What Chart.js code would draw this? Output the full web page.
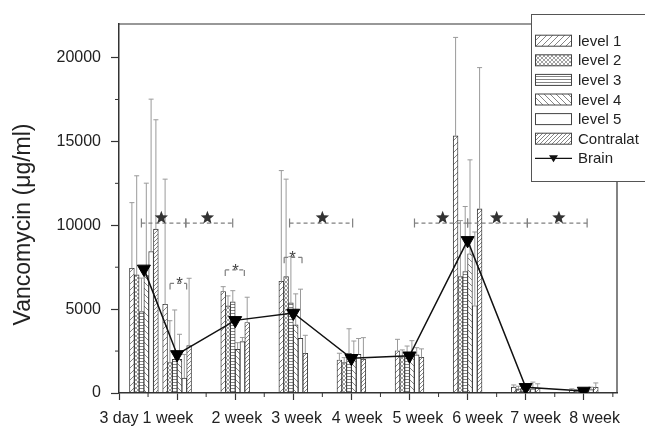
<!DOCTYPE html>
<html>
<head>
<meta charset="utf-8">
<script src="https://cdn.jsdelivr.net/npm/chart.js@4.4.0/dist/chart.umd.min.js"></script>
<style>
  body { margin: 0; background: #fff; }
  canvas { display: block; }
</style>
</head>
<body>
<canvas id="canvas" width="645" height="429"></canvas>
<script>
// sampling days and the x labels
const days = [3, 7, 14, 21, 28, 35, 42, 49, 56];
const xLabels = ['3 day', '1 week', '2 week', '3 week', '4 week', '5 week', '6 week', '7 week', '8 week'];
const labelDays = [0, 5.9, 14.2, 21.4, 28.7, 36, 43.2, 50.2, 57.3];

// means and SD (ug/ml)
const level1 = [7440, 5290, 6050, 6660, 1970, 2520, 15330, 350, 150];
const level1Sd = [3910, 7460, 290, 6600, 400, 680, 5870, 130, 100];
const level2 = [7040, 1810, 5190, 6940, 1810, 2170, 6940, 250, 100];
const level2Sd = [5910, 2500, 600, 5810, 300, 400, 3340, 150, 100];
const level3 = [4850, 2000, 5430, 5370, 2370, 2300, 7240, 300, 150];
const level3Sd = [2000, 2950, 670, 2760, 1460, 500, 3880, 150, 100];
const level4 = [7000, 2000, 2600, 4060, 2200, 2330, 8300, 200, 100];
const level4Sd = [5510, 1500, 400, 1850, 900, 790, 5600, 150, 100];
const level5 = [8430, 890, 3060, 3260, 2300, 2270, 5200, 250, 200];
const level5Sd = [9090, 1410, 250, 2930, 950, 430, 4400, 400, 150];
const contralat = [9770, 2820, 4200, 2370, 2010, 2130, 10980, 300, 340];
const contralatSd = [6520, 4020, 1510, 1070, 1290, 500, 8420, 250, 260];
const brain = [7400, 2300, 4330, 4770, 2070, 2220, 9100, 340, 120];

// significance marks
const bigBrackets = [[2.7, 8.05], [8.05, 13.7], [20.55, 28.15], [35.6, 42], [42, 49.2], [49.2, 56.4]];
const bigStars = [5.1, 10.65, 24.5, 39, 45.5, 53];
const bracketLevel = 10130;
const starLevel = 10450;
const smallBrackets = [[6.15, 8.15, 6530], [12.8, 15.1, 7340], [19.9, 22.05, 8090]];
const smallStars = [7.3, 14.05, 20.9];

const FONT = "'Liberation Sans', Arial, sans-serif";

function hatch(kind) {
  const s = kind === 'horiz' ? 3 : (kind === 'dense' || kind === 'cross') ? 4 : 6;
  const c = document.createElement('canvas');
  c.width = s; c.height = s;
  const g = c.getContext('2d');
  g.fillStyle = '#fff';
  g.fillRect(0, 0, s, s);
  g.strokeStyle = kind === 'cross' ? '#8a8a8a' : '#666';
  g.lineWidth = 0.8;
  g.beginPath();
  if (kind === 'horiz') {
    g.moveTo(0, 1.5); g.lineTo(s, 1.5);
  }
  if (kind === 'fwd' || kind === 'dense' || kind === 'cross') {
    g.moveTo(-1, s + 1); g.lineTo(s + 1, -1);
    g.moveTo(-1, 1); g.lineTo(1, -1);
    g.moveTo(s - 1, s + 1); g.lineTo(s + 1, s - 1);
  }
  if (kind === 'back' || kind === 'cross') {
    g.moveTo(-1, -1); g.lineTo(s + 1, s + 1);
    g.moveTo(s - 1, -1); g.lineTo(s + 1, 1);
    g.moveTo(-1, s - 1); g.lineTo(1, s + 1);
  }
  g.stroke();
  if (kind === 'none') return '#fff';
  return g.createPattern(c, 'repeat');
}

function pts(vals) {
  return days.map((d, i) => ({x: d, y: vals[i]}));
}

function barSet(label, vals, sd, kind) {
  return {
    type: 'bar', label: label, data: pts(vals), sd: sd,
    backgroundColor: hatch(kind), borderColor: '#333', borderWidth: 0.9,
    borderSkipped: false, barThickness: 4.8, order: 2
  };
}

function star(ctx, cx, cy, r) {
  ctx.beginPath();
  for (let k = 0; k < 10; k++) {
    const rr = k % 2 ? r * 0.42 : r;
    const a = -Math.PI / 2 + k * Math.PI / 5;
    ctx.lineTo(cx + rr * Math.cos(a), cy + rr * Math.sin(a));
  }
  ctx.closePath();
  ctx.fill();
}

const extras = {
  id: 'extras',
  afterDatasetDraw(chart, args) {
    const ds = chart.data.datasets[args.index];
    if (!ds.sd) return;
    const y = chart.scales.y, ctx = chart.ctx;
    ctx.save();
    ctx.strokeStyle = '#9a9a9a';
    ctx.lineWidth = 1;
    args.meta.data.forEach((bar, i) => {
      const top = y.getPixelForValue(ds.data[i].y + ds.sd[i]);
      ctx.beginPath();
      ctx.moveTo(bar.x, bar.y); ctx.lineTo(bar.x, top);
      ctx.moveTo(bar.x - 2.5, top); ctx.lineTo(bar.x + 2.5, top);
      ctx.stroke();
    });
    ctx.restore();
  },
  afterDraw(chart) {
    const ctx = chart.ctx, a = chart.chartArea;
    const x = chart.scales.x, y = chart.scales.y;
    ctx.save();

    // top and right frame
    ctx.strokeStyle = '#333';
    ctx.lineWidth = 1.2;
    ctx.beginPath();
    ctx.moveTo(a.left, a.top); ctx.lineTo(a.right, a.top); ctx.lineTo(a.right, a.bottom);
    ctx.stroke();

    // minor ticks
    ctx.lineWidth = 1;
    ctx.beginPath();
    for (let v = 2500; v < 22000; v += 5000) {
      const py = y.getPixelForValue(v);
      ctx.moveTo(a.left - 4, py); ctx.lineTo(a.left, py);
    }
    for (let d = 3.5; d < 60; d += 7) {
      const px = x.getPixelForValue(d);
      ctx.moveTo(px, a.bottom); ctx.lineTo(px, a.bottom + 4);
    }
    ctx.stroke();

    // significance brackets
    ctx.strokeStyle = '#808080';
    ctx.lineWidth = 1.2;
    const by = y.getPixelForValue(bracketLevel);
    bigBrackets.forEach(b => {
      const x1 = x.getPixelForValue(b[0]), x2 = x.getPixelForValue(b[1]);
      ctx.setLineDash([4, 3]);
      ctx.beginPath(); ctx.moveTo(x1, by); ctx.lineTo(x2, by); ctx.stroke();
      ctx.setLineDash([]);
      ctx.beginPath();
      ctx.moveTo(x1, by - 4.5); ctx.lineTo(x1, by + 4.5);
      ctx.moveTo(x2, by - 4.5); ctx.lineTo(x2, by + 4.5);
      ctx.stroke();
    });
    smallBrackets.forEach(b => {
      const x1 = x.getPixelForValue(b[0]), x2 = x.getPixelForValue(b[1]);
      const py = y.getPixelForValue(b[2]);
      ctx.setLineDash([4, 3]);
      ctx.beginPath(); ctx.moveTo(x1, py); ctx.lineTo(x2, py); ctx.stroke();
      ctx.setLineDash([]);
      ctx.beginPath();
      ctx.moveTo(x1, py); ctx.lineTo(x1, py + 6);
      ctx.moveTo(x2, py); ctx.lineTo(x2, py + 6);
      ctx.stroke();
    });
    ctx.fillStyle = '#333';
    bigStars.forEach(d => star(ctx, x.getPixelForValue(d), y.getPixelForValue(starLevel), 7));
    ctx.fillStyle = '#444';
    ctx.font = '17px ' + FONT;
    ctx.textAlign = 'center';
    ctx.textBaseline = 'alphabetic';
    smallStars.forEach((d, i) => {
      ctx.fillText('*', x.getPixelForValue(d), y.getPixelForValue(smallBrackets[i][2]) + 6);
    });

    // y title
    ctx.fillStyle = '#222';
    ctx.font = '23px ' + FONT;
    ctx.textBaseline = 'middle';
    ctx.translate(24, (a.top + a.bottom) / 2 + 16);
    ctx.rotate(-Math.PI / 2);
    ctx.fillText('Vancomycin (\u03bcg/ml)', 0, 0);
    ctx.setTransform(1, 0, 0, 1, 0, 0);

    // legend
    const lx = 531, ly = 14;
    ctx.fillStyle = '#fff';
    ctx.fillRect(lx, ly, 130, 167);
    ctx.strokeStyle = '#555';
    ctx.lineWidth = 1;
    ctx.strokeRect(lx + 0.5, ly + 0.5, 130, 167);
    ctx.font = '15px ' + FONT;
    ctx.textAlign = 'left';
    ctx.textBaseline = 'middle';
    chart.data.datasets.forEach((ds, i) => {
      const cy = ly + 26.7 + i * 19.6;
      if (ds.type === 'bar') {
        ctx.fillStyle = ds.backgroundColor;
        ctx.fillRect(535, cy - 5.5, 37, 11);
        ctx.strokeStyle = '#444';
        ctx.strokeRect(535.5, cy - 5.5, 36, 11);
      } else {
        ctx.strokeStyle = '#111';
        ctx.lineWidth = 1.3;
        ctx.beginPath(); ctx.moveTo(535, cy); ctx.lineTo(572, cy); ctx.stroke();
        ctx.fillStyle = '#111';
        ctx.beginPath();
        ctx.moveTo(549, cy - 3); ctx.lineTo(558, cy - 3); ctx.lineTo(553.5, cy + 4);
        ctx.closePath(); ctx.fill();
      }
      ctx.fillStyle = '#222';
      ctx.fillText(ds.label, 578, cy + 1);
    });
    ctx.restore();
  }
};

Chart.defaults.font.family = FONT;
Chart.defaults.color = '#222';

const ctx = document.getElementById('canvas').getContext('2d');
new Chart(ctx, {
  data: {
    datasets: [
      barSet('level 1', level1, level1Sd, 'fwd'),
      barSet('level 2', level2, level2Sd, 'cross'),
      barSet('level 3', level3, level3Sd, 'horiz'),
      barSet('level 4', level4, level4Sd, 'back'),
      barSet('level 5', level5, level5Sd, 'none'),
      barSet('Contralat', contralat, contralatSd, 'dense'),
      {
        type: 'line', label: 'Brain', data: pts(brain), order: 1,
        borderColor: '#111', borderWidth: 1.5, tension: 0, clip: 0,
        pointStyle: 'triangle', rotation: 180, pointRadius: 7.5,
        pointBackgroundColor: '#000', pointBorderColor: '#000', pointBorderWidth: 1,
        xAxisID: 'x', yAxisID: 'y'
      }
    ]
  },
  options: {
    responsive: false,
    animation: false,
    layout: { padding: { top: 24, right: 28, left: 0, bottom: 0 } },
    plugins: { legend: { display: false }, tooltip: { enabled: false } },
    scales: {
      x: {
        type: 'linear', position: 'bottom', min: 0, max: 60, offset: false,
        grid: { display: true, offset: false, drawOnChartArea: false, drawTicks: true, tickLength: 7, tickColor: '#333', tickWidth: 1.2 },
        border: { display: true, color: '#333', width: 1.5 },
        ticks: { display: false },
        afterBuildTicks: s => { s.ticks = [0].concat(days.slice(1)).map(v => ({value: v})); },
        afterFit: s => { s.height = 7; }
      },
      x2: {
        type: 'linear', position: 'bottom', min: 0, max: 60, offset: false,
        grid: { display: false, drawTicks: false },
        border: { display: false },
        ticks: {
          autoSkip: false, maxRotation: 0, minRotation: 0, padding: 9,
          font: { size: 16 }, color: '#222',
          callback: (v, i) => xLabels[i]
        },
        afterBuildTicks: s => { s.ticks = labelDays.map(v => ({value: v})); },
        afterFit: s => { s.height = 29; }
      },
      y: {
        type: 'linear', min: 0, max: 22000,
        grid: { display: true, drawOnChartArea: false, drawTicks: true, tickLength: 8, tickColor: '#333', tickWidth: 1.2 },
        border: { display: true, color: '#333', width: 1.5 },
        ticks: { padding: 10, font: { size: 16 }, color: '#222', callback: v => String(v) },
        afterBuildTicks: s => { s.ticks = [0, 5000, 10000, 15000, 20000].map(v => ({value: v})); },
        afterFit: s => { s.width = 119; }
      }
    }
  },
  plugins: [extras]
});
</script>
</body>
</html>
